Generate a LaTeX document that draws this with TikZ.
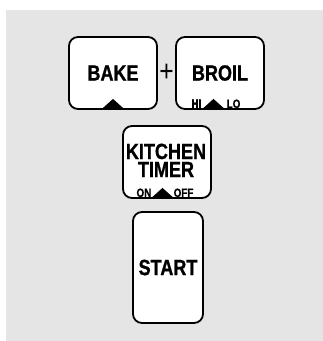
\documentclass[tikz,border=0pt]{standalone}
\usepackage{fontspec}
\newfontfamily\panelfont[FakeStretch=0.82,BoldFeatures={FakeBold=1}]{Liberation Sans}
\usetikzlibrary{positioning,calc}
\tikzset{
  key/.style={draw,line width=1.8pt,rounded corners=9pt,fill=white,inner sep=0pt},
  keytext/.style={font=\panelfont\bfseries\fontsize{22}{18}\selectfont,inner sep=0pt},
  subtext/.style={font=\panelfont\bfseries\fontsize{12}{12}\selectfont,inner sep=0pt},
}
\newcommand\keymark[1]{\fill #1 ++(-10,0) -- ++(20,0) -- ++(-10,-9) -- cycle;}
\begin{document}
\begin{tikzpicture}[x=1pt,y=-1pt]
  \useasboundingbox (0,0) rectangle (323,341);
  % panel
  \fill[black!10] (6,10) rectangle (323,341);
  % keys
  \node[key,minimum width=88pt,minimum height=72pt] (bake) at (113,73) {};
  \node[key,minimum width=88pt,minimum height=72pt] (broil) at (220,73) {};
  \node[key,minimum width=88pt,minimum height=72pt] (timer) at (167,162) {};
  \node[key,minimum width=70pt,minimum height=111pt] (start) at (168,267.5) {};
  % labels
  \node[keytext] (baketext) at (bake.center) {BAKE};
  \node[keytext] (broiltext) at (broil.center) {BROIL};
  \node[keytext,anchor=base] (kitchen) at (166,159) {KITCHEN};
  \node[keytext,anchor=base] (timertext) at (166,177) {TIMER};
  \node[keytext] (starttext) at (start.center) {START};
  \node[font=\panelfont\fontsize{30}{30}\selectfont,inner sep=0pt] (plus) at (166.5,73) {+};
  % markers
  \coordinate (bakemark) at ($(bake.south)+(0,-2)$);
  \coordinate (broilmark) at ($(broil.south)+(-6.5,-2)$);
  \coordinate (timermark) at ($(timer.south)+(-4.5,-2)$);
  \foreach \m in {bakemark,broilmark,timermark}
    \keymark{(\m)}
  \node[subtext,anchor=base east] (hi) at ($(broilmark)+(-12,0)$) {HI};
  \node[subtext,anchor=base west] (lo) at ($(broilmark)+(13,0)$) {LO};
  \node[subtext,anchor=base east] (on) at ($(timermark)+(-11,0)$) {ON};
  \node[subtext,anchor=base west] (off) at ($(timermark)+(11,0)$) {OFF};
\end{tikzpicture}
\end{document}
